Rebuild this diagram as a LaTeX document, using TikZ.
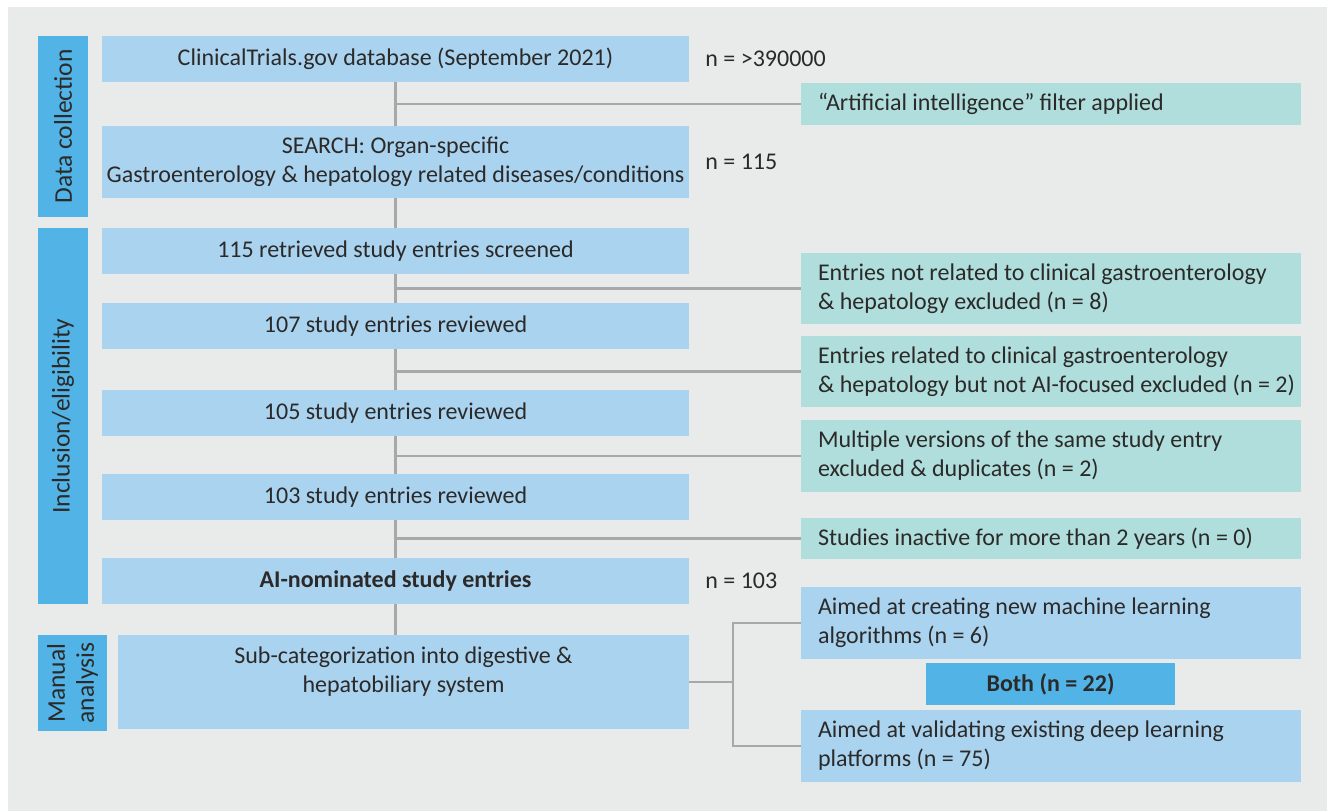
\documentclass[tikz,border=0pt]{standalone}
\usepackage{fontspec}
\setmainfont{Carlito}
\usetikzlibrary{positioning}
\definecolor{panelgray}{HTML}{E9EBEB}
\definecolor{boxblue}{HTML}{AAD3F0}
\definecolor{phaseblue}{HTML}{52B3E6}
\definecolor{exclteal}{HTML}{B0DEDC}
\definecolor{linkgray}{HTML}{A8A8A8}
\definecolor{inkdark}{HTML}{2B2A29}
\begin{document}
\begin{tikzpicture}[x=1pt, y=-1pt,
  every node/.style={font=\fontsize{24}{29}\selectfont, text=inkdark},
  mainbox/.style={fill=boxblue, inner sep=0pt, minimum width=587pt, align=center},
  phase/.style={fill=phaseblue, rotate=90, inner sep=0pt, align=center, font=\fontsize{25.5}{29}\selectfont},
  excl/.style={fill=exclteal, inner xsep=17pt, inner ysep=0pt, text width=466pt, align=flush left},
  nlabel/.style={inner sep=2pt},
  link/.style={linkgray, line width=2.5pt}]
\useasboundingbox (0,0) rectangle (1327,811);
\fill[panelgray] (8,7) rectangle (1327,811);
% phases on the left
\node[phase, minimum width=181pt, minimum height=50pt] (collect) at (63,126.5) {Data collection};
\node[phase, minimum width=376pt, minimum height=50pt] (incl) at (63,416) {Inclusion/eligibility};
\node[phase, minimum width=96pt, minimum height=69pt] (manual) at (72.5,683) {Manual\\analysis};
% main column
\node[mainbox, minimum height=46pt] (db) at (395.5,59) {ClinicalTrials.gov database (September 2021)};
\node[mainbox, minimum height=72pt] (search) at (395.5,162) {SEARCH: Organ-specific\\Gastroenterology \& hepatology related diseases/conditions};
\node[mainbox, minimum height=46pt] (screen) at (395.5,251) {115 retrieved study entries screened};
\node[mainbox, minimum height=46pt] (rev107) at (395.5,326) {107 study entries reviewed};
\node[mainbox, minimum height=46pt] (rev105) at (395.5,413) {105 study entries reviewed};
\node[mainbox, minimum height=46pt] (rev103) at (395.5,497) {103 study entries reviewed};
\node[mainbox, minimum height=46pt] (nominated) at (395.5,581) {\bfseries AI-nominated study entries};
\node[mainbox, minimum width=571pt, minimum height=94pt, text depth=24pt] (subcat) at (403.5,682) {Sub-categorization into digestive \&\\hepatobiliary system};
% counts
\node[nlabel, right=14pt of db] (ndb) {n = >390000};
\node[nlabel, right=14pt of search] (nsearch) {n = 115};
\node[nlabel, right=14pt of nominated] (nnom) {n = 103};
% exclusions on the right
\node[excl, minimum height=42pt] (filter) at (1051,104) {“Artificial intelligence” filter applied};
\node[excl, minimum height=71pt] (notrel) at (1051,288.5) {Entries not related to clinical gastroenterology\\\& hepatology excluded (n = 8)};
\node[excl, minimum height=71pt] (notai) at (1051,371.5) {Entries related to clinical gastroenterology\\\mbox{\& hepatology but not AI-focused excluded (n = 2)}};
\node[excl, minimum height=72pt] (multi) at (1051,456) {Multiple versions of the same study entry\\excluded \& duplicates (n = 2)};
\node[excl, minimum height=41pt] (inactive) at (1051,538.5) {Studies inactive for more than 2 years (n = 0)};
% categories
\node[excl, fill=boxblue, minimum height=72pt] (creating) at (1051,623) {Aimed at creating new machine learning\\algorithms (n = 6)};
\node[fill=phaseblue, inner sep=0pt, minimum width=249pt, minimum height=42pt] (both) at (1050.5,684) {\bfseries Both (n = 22)};
\node[excl, fill=boxblue, minimum height=72pt] (validating) at (1051,746) {Aimed at validating existing deep learning\\platforms (n = 75)};
% trunk and branches
\foreach \a/\b in {db/search, search/screen, screen/rev107, rev107/rev105, rev105/rev103, rev103/nominated}
  \draw[link] (\a) -- (\b);
\draw[link] (nominated.south) -- (nominated.south |- subcat.north);
\foreach \e in {filter, notrel, notai, multi, inactive}
  \draw[link] (db.south |- \e.west) -- (\e.west);
\draw[link] (creating.west) -- ++(-68,0) coordinate (fork) |- (validating.west);
\draw[link] (subcat.east) -- (subcat.east -| fork);
\end{tikzpicture}
\end{document}
